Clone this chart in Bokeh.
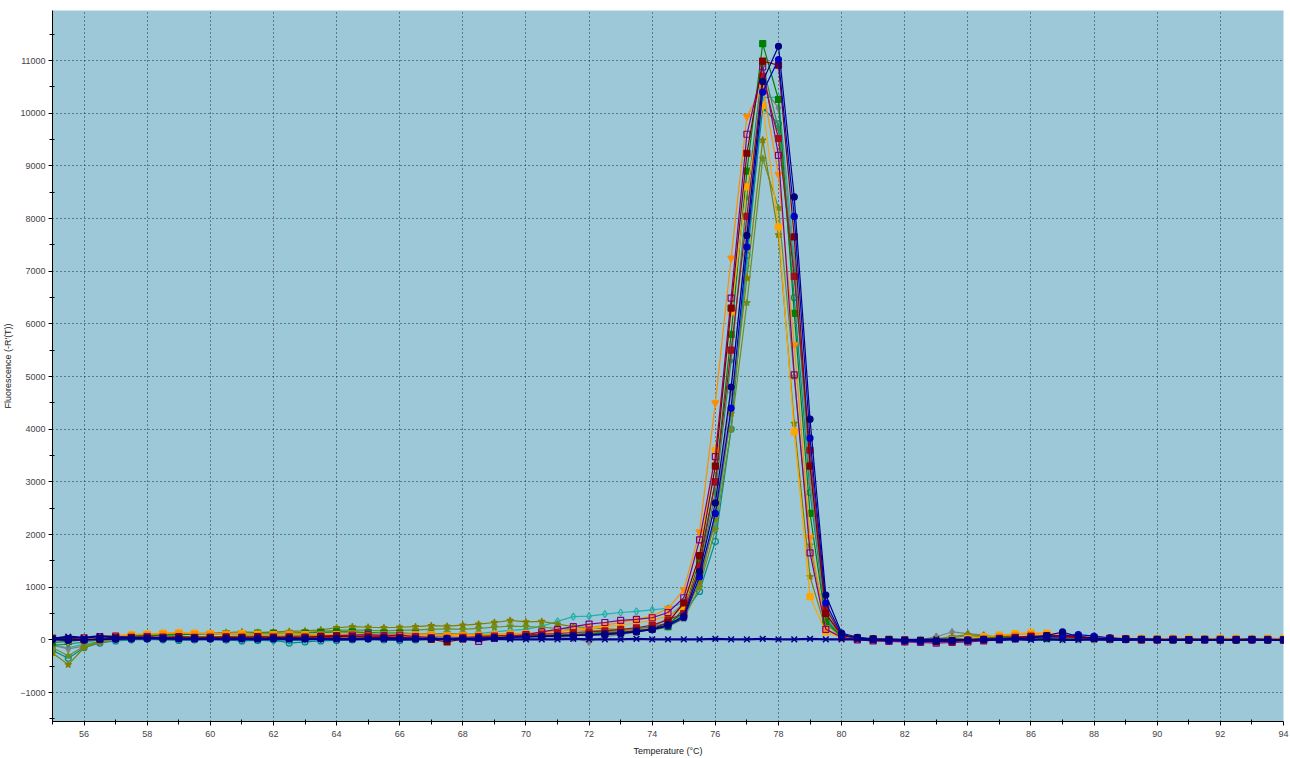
from bokeh.plotting import figure
from bokeh.models import FixedTicker, Range1d
from bokeh.embed import file_html
from bokeh.resources import INLINE

# Temperature (°C) of each reading
temps = [55.0, 55.5, 56.0, 56.5, 57.0, 57.5, 58.0, 58.5, 59.0, 59.5,
         60.0, 60.5, 61.0, 61.5, 62.0, 62.5, 63.0, 63.5, 64.0, 64.5,
         65.0, 65.5, 66.0, 66.5, 67.0, 67.5, 68.0, 68.5, 69.0, 69.5,
         70.0, 70.5, 71.0, 71.5, 72.0, 72.5, 73.0, 73.5, 74.0, 74.5,
         75.0, 75.5, 76.0, 76.5, 77.0, 77.5, 78.0, 78.5, 79.0, 79.5,
         80.0, 80.5, 81.0, 81.5, 82.0, 82.5, 83.0, 83.5, 84.0, 84.5,
         85.0, 85.5, 86.0, 86.5, 87.0, 87.5, 88.0, 88.5, 89.0, 89.5,
         90.0, 90.5, 91.0, 91.5, 92.0, 92.5, 93.0, 93.5, 94.0]

# Fluorescence (-R'(T)) per well
well_maroon = [30, 20, 10, 20, 40, 50, 40, 50, 60, 50,
               50, 40, 50, 60, 50, 40, 50, 60, 70, 60,
               50, 40, 50, 30, 10, -40, 20, 30, 40, 50,
               60, 70, 80, 90, 100, 120, 140, 170, 210, 330,
               700, 1600, 3300, 6300, 9240, 10990, 10910, 7650, 3300, 500,
               80, 40, 20, 10, 0, -10, -30, -20, -10, 0,
               20, 40, 60, 80, 70, 60, 40, 30, 20, 10,
               10, 0, 0, 10, 0, 0, 10, 0, 0]
well_firebrick = [20, 10, 0, 10, 30, 40, 50, 40, 30, 40,
                  50, 60, 50, 40, 50, 60, 50, 40, 50, 60,
                  70, 60, 50, 40, 40, 30, 50, 60, 70, 80,
                  90, 110, 120, 140, 150, 170, 200, 230, 280, 380,
                  500, 1400, 3000, 5500, 8040, 10700, 9520, 6900, 3600, 600,
                  90, 30, 10, 0, -20, -30, -40, -30, -10, 10,
                  30, 50, 70, 60, 50, 40, 30, 20, 10, 0,
                  0, 10, 0, 0, 10, 0, 0, 10, 0]
well_navy = [10, 0, 0, 10, 20, 20, 30, 20, 30, 30,
             20, 30, 30, 20, 30, 30, 20, 20, 30, 20,
             30, 40, 30, 20, 30, 20, 30, 30, 40, 50,
             60, 60, 70, 80, 90, 100, 120, 150, 200, 290,
             450, 1300, 2600, 4800, 7680, 10600, 11270, 8410, 4190, 850,
             130, 50, 20, 0, -10, -20, -30, -20, -10, 0,
             10, 20, 40, 80, 150, 60, 30, 20, 10, 10,
             10, 0, 0, 10, 0, 0, 10, 0, 0]
well_blue = [0, -10, 0, 10, 10, 20, 20, 30, 20, 20,
             30, 20, 20, 30, 20, 20, 30, 20, 20, 30,
             20, 30, 20, 30, 20, 30, 20, 40, 40, 50,
             60, 70, 70, 80, 90, 110, 130, 160, 190, 270,
             420, 1200, 2400, 4400, 7460, 10400, 11020, 8040, 3830, 700,
             100, 40, 10, -10, -20, -30, -20, -10, 0, 10,
             20, 30, 40, 60, 80, 100, 70, 40, 20, 10,
             0, 10, 0, 0, 10, 0, 0, 0, 0]
well_green = [-50, -30, 0, 30, 50, 70, 80, 90, 100, 110,
              110, 120, 120, 130, 130, 120, 130, 140, 150, 150,
              140, 130, 130, 120, 110, 100, 90, 90, 80, 80,
              70, 80, 90, 100, 110, 120, 140, 160, 200, 250,
              600, 1500, 3000, 5800, 8900, 11320, 10260, 6200, 2400, 350,
              60, 20, 0, -20, -30, -20, -10, 0, 20, 40,
              60, 50, 40, 30, 40, 50, 40, 30, 20, 10,
              10, 0, 0, 10, 0, 0, 10, 0, 0]
well_seagreen = [-100, -80, -40, 0, 20, 30, 40, 50, 50, 60,
                 60, 60, 70, 70, 60, 70, 80, 90, 100, 100,
                 110, 100, 100, 110, 110, 120, 110, 100, 100, 90,
                 80, 80, 90, 100, 120, 130, 150, 170, 190, 240,
                 500, 1300, 2800, 5300, 8400, 10900, 9710, 7000, 3360, 600,
                 90, 30, 10, -10, -20, -30, -20, 0, 30, 60,
                 90, 70, 50, 40, 30, 30, 20, 20, 10, 10,
                 0, 0, 10, 0, 0, 10, 0, 0, 0]
well_purple = [30, 20, 40, 60, 70, 40, 60, 50, 40, 30,
               40, 30, 40, 30, 50, 40, 50, 70, 80, 90,
               100, 80, 90, 60, 40, 10, 30, -30, 30, 60,
               100, 150, 200, 250, 300, 330, 370, 390, 420, 520,
               800, 1900, 3480, 6490, 9600, 10880, 9200, 5030, 1650, 200,
               50, 0, -20, -30, -40, -50, -60, -50, -40, -20,
               0, 20, 40, 60, 50, 40, 30, 20, 10, 0,
               0, 10, 0, 0, 0, 10, 0, 0, 0]
well_darkorange = [20, -20, 20, 60, 70, 100, 110, 120, 130, 120,
                   110, 120, 110, 100, 110, 120, 110, 100, 110, 120,
                   110, 100, 110, 120, 110, 100, 110, 100, 110, 120,
                   130, 140, 160, 190, 230, 280, 330, 390, 450, 600,
                   950, 2050, 4500, 7250, 9940, 10490, 8840, 5600, 1940, 220,
                   50, 20, 10, 0, 0, -10, -20, 0, 20, 50,
                   80, 100, 120, 110, 90, 60, 40, 30, 30, 20,
                   20, 30, 20, 20, 30, 20, 20, 30, 20]
well_orange = [10, 0, 30, 50, 80, 100, 110, 130, 140, 130,
               120, 110, 120, 110, 100, 110, 100, 90, 100, 110,
               100, 90, 100, 90, 100, 90, 80, 90, 100, 110,
               120, 140, 160, 180, 210, 250, 280, 320, 370, 450,
               600, 1610, 3600, 6230, 8600, 10150, 7840, 3950, 820, 150,
               40, 20, 10, 0, -10, -20, -10, 0, 30, 60,
               90, 120, 140, 130, 110, 80, 50, 40, 30, 30,
               20, 30, 30, 20, 30, 30, 20, 30, 30]
well_olive = [-250, -470, -150, -40, 30, 80, 100, 120, 130, 120,
              130, 140, 150, 140, 150, 160, 170, 190, 230, 250,
              240, 230, 240, 250, 270, 260, 280, 300, 330, 370,
              340, 350, 300, 250, 230, 210, 200, 190, 210, 280,
              450, 1100, 2300, 4300, 6870, 9490, 7690, 4110, 1200, 200,
              50, 10, -10, -20, -30, -10, 20, 60, 100, 80,
              60, 50, 40, 30, 20, 20, 10, 10, 0, 0,
              10, 0, 0, 10, 0, 0, 10, 0, 0]
well_olivedrab = [-150, -300, -120, -30, 20, 60, 80, 90, 100, 110,
                  120, 110, 120, 110, 120, 130, 140, 160, 180, 190,
                  180, 170, 180, 190, 200, 210, 200, 220, 240, 260,
                  250, 240, 220, 200, 180, 170, 160, 160, 190, 250,
                  400, 1000, 2100, 4000, 6400, 9140, 8200, 5000, 1800, 300,
                  60, 20, 0, -20, -30, -20, 0, 40, 80, 60,
                  40, 30, 30, 20, 20, 10, 10, 0, 0, 10,
                  0, 0, 10, 0, 0, 10, 0, 0, 0]
well_teal = [-200, -350, -150, -60, -20, 0, 10, 0, -10, 0,
             10, 0, -20, -10, 0, -60, -40, -20, -10, 0,
             10, 0, -10, 0, 10, 20, 30, 20, 30, 40,
             50, 60, 80, 100, 120, 150, 180, 210, 250, 320,
             500, 920, 1870, 4000, 7300, 10100, 9800, 6500, 2800, 400,
             60, 20, 0, -10, -20, -10, 0, 10, 30, 40,
             50, 60, 50, 40, 30, 20, 20, 10, 10, 0,
             0, 10, 0, 0, 10, 0, 0, 0, 0]
well_seablue = [-100, -150, -80, -30, 0, 10, 20, 20, 10, 20,
                10, 0, -10, 0, -30, -20, 0, 20, 30, 40,
                50, 60, 50, 60, 70, 80, 100, 120, 150, 180,
                200, 260, 350, 440, 450, 490, 520, 540, 570, 600,
                700, 1300, 2200, 4300, 7100, 10300, 10300, 7300, 3000, 500,
                80, 30, 10, 0, -10, -20, -10, 10, 30, 50,
                40, 30, 20, 20, 10, 10, 0, 0, 10, 0,
                0, 10, 0, 0, 0, 10, 0, 0, 0]
well_gray = [-100, -170, -120, -50, 0, 20, 30, 40, 50, 40,
             50, 60, 50, 60, 70, 60, 70, 80, 90, 80,
             70, 80, 70, 60, 70, 60, 50, 40, 50, 60,
             50, 60, 50, 30, -40, 60, 100, 150, 230, 420,
             700, 1000, 2400, 4700, 7800, 10500, 10100, 7100, 3000, 450,
             60, 20, 0, -10, -20, 0, 60, 150, 120, 90,
             60, 50, 40, 30, 20, 20, 10, 10, 0, 0,
             10, 0, 0, 10, 0, 0, 0, 0, 0]
well_ntc = [20, 60, 40, 70, 50, 40, 40, 30, 20, 10,
            20, 10, 20, 10, 20, 10, 10, 20, 10, 10,
            20, 10, 10, 10, 20, 10, 10, 10, 20, 10,
            10, 10, 10, 20, 10, 10, 10, 20, 10, 10,
            10, 10, 20, 10, 10, 20, 10, 10, 20, 10,
            10, 10, 0, 10, 0, 0, 10, 0, 0, 10,
            0, 10, 0, 10, 0, 0, 10, 0, 0, 10,
            0, 0, 10, 0, 0, 0, 10, 0, 0]

x_major = [56, 58, 60, 62, 64, 66, 68, 70, 72, 74, 76, 78, 80, 82, 84, 86, 88, 90, 92, 94]
x_minor = [55, 57, 59, 61, 63, 65, 67, 69, 71, 73, 75, 77, 79, 81, 83, 85, 87, 89, 91, 93]
y_major = [-1000, 0, 1000, 2000, 3000, 4000, 5000, 6000, 7000, 8000, 9000, 10000, 11000]
y_minor = [-1500, -500, 500, 1500, 2500, 3500, 4500, 5500, 6500, 7500, 8500, 9500, 10500, 11500]

series = [
    (well_seablue, "#20B2AA", "diamond", 7, False),
    (well_teal, "#008B8B", "circle", 6, False),
    (well_gray, "#808080", "diamond", 7, True),
    (well_olivedrab, "#6B8E23", "star", 7, True),
    (well_olive, "#808000", "star", 7, True),
    (well_seagreen, "#2E8B57", "diamond", 6, True),
    (well_green, "#008000", "square", 6, True),
    (well_orange, "#FFA500", "square", 6, True),
    (well_darkorange, "#FF8C00", "inverted_triangle", 7, True),
    (well_purple, "#800080", "square", 6, False),
    (well_firebrick, "#A01020", "square", 6, True),
    (well_maroon, "#800000", "square", 6, True),
    (well_blue, "#0000CD", "circle", 6, True),
    (well_navy, "#000080", "circle", 6, True),
]

p = figure(width=1290, height=758, output_backend="svg", toolbar_location=None,
           x_range=Range1d(55, 94), y_range=Range1d(-1550, 11950),
           min_border_left=50, min_border_right=7, min_border_top=10, min_border_bottom=36)
p.background_fill_color = "#9DC8D8"
p.border_fill_color = "white"
p.outline_line_color = None

p.xaxis.ticker = FixedTicker(ticks=x_major, minor_ticks=x_minor)
p.yaxis.ticker = FixedTicker(ticks=y_major, minor_ticks=y_minor)
p.xgrid.ticker = FixedTicker(ticks=x_major)
p.ygrid.ticker = FixedTicker(ticks=y_major)
for g in (p.xgrid, p.ygrid):
    g.grid_line_color = "#1a1a1a"
    g.grid_line_dash = "1 3"
    g.grid_line_width = 1
    g.grid_line_alpha = 0.9

for ax in (p.xaxis, p.yaxis):
    ax.axis_line_color = "black"
    ax.axis_line_width = 1
    ax.major_tick_line_color = "black"
    ax.minor_tick_line_color = "black"
    ax.major_tick_out = 4
    ax.major_tick_in = 0
    ax.minor_tick_out = 3
    ax.minor_tick_in = 2
    ax.major_label_text_font = "Liberation Sans"
    ax.major_label_text_font_size = "9px"
    ax.major_label_text_color = "#444444"
    ax.axis_label_text_font = "Liberation Sans"
    ax.axis_label_text_font_size = "9px"
    ax.axis_label_text_font_style = "normal"
    ax.axis_label_text_color = "#222222"
    ax.major_label_standoff = 3
    ax.axis_label_standoff = 4

p.xaxis.major_label_standoff = 5
p.xaxis.axis_label_standoff = 6
p.xaxis.axis_label = "Temperature (°C)"
p.yaxis.axis_label = "Fluorescence (-R'(T))"

for vals, color, marker, size, filled in series:
    p.line(temps, vals, line_color=color, line_width=1.2)
    p.scatter(temps, vals, marker=marker, size=size, line_color=color,
              fill_color=color if filled else None, line_width=1.2)

p.line(temps, well_ntc, line_color="#00008B", line_width=2.2)
p.scatter(temps, well_ntc, marker="x", size=8, line_color="#00008B", line_width=1.5)

open("out.html", "w").write(file_html(p, INLINE))
